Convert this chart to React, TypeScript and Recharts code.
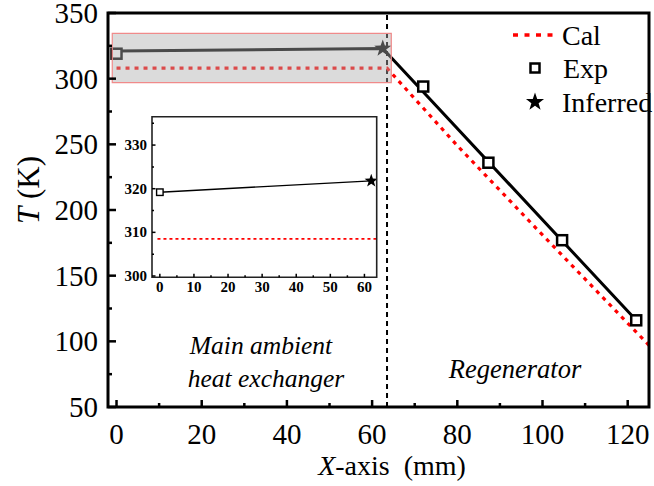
import React from 'react';
import {
  ComposedChart,
  Line,
  Scatter,
  XAxis,
  YAxis,
  ReferenceArea,
  ReferenceLine,
} from 'recharts';

// main plot data
const calX = [0, 63.5, 80, 100, 125];
const calT = [308, 308, 249, 181, 97];
const fitX = [0, 62.5, 122];
const fitT = [321, 323, 116];
const expX = [0, 72, 87.3, 104.6, 122];
const expT = [319, 294, 236, 177, 116];
const inferredX = [62.5];
const inferredT = [323];

// inset data
const insetExpX = [0];
const insetExpT = [319.2];
const insetInfX = [62];
const insetInfT = [321.8];
const insetCalX = [-0.7, 63.6];
const insetCalT = [308.5, 308.5];

const xTicks = [0, 10, 20, 30, 40, 50, 60, 70, 80, 90, 100, 110, 120];
const yTicks = [50, 75, 100, 125, 150, 175, 200, 225, 250, 275, 300, 325, 350];
const insetXTicks = [0, 5, 10, 15, 20, 25, 30, 35, 40, 45, 50, 55, 60];
const insetYTicks = [300, 305, 310, 315, 320, 325, 330, 335];

const boundaryX = 63.5;

const zip = (xs: number[], ys: number[]) => xs.map((x, i) => ({ x, T: ys[i] }));

const FONT = 'Liberation Serif';
const RED = '#ff0000';

// text style – inline so nothing else can override it
const ts = (size: number, extra: any = {}) => ({ fontFamily: FONT, fontSize: size, ...extra });

// plot box of the main chart, in page pixels
const PL = 108;
const PT = 13;
const PR = 649;
const PB = 407;

const starPoints = (cx: number, cy: number, ro: number, ri: number) => {
  const pts: string[] = [];
  for (let i = 0; i < 10; i++) {
    const r = i % 2 === 0 ? ro : ri;
    const a = -Math.PI / 2 + (i * Math.PI) / 5;
    pts.push(`${cx + r * Math.cos(a)},${cy + r * Math.sin(a)}`);
  }
  return pts.join(' ');
};

const Square = (size: number, sw: number) => (props: any) => {
  const { cx, cy } = props;
  if (cx == null || cy == null) return null;
  return (
    <rect x={cx - size / 2} y={cy - size / 2} width={size} height={size}
      fill="#fff" stroke="#000" strokeWidth={sw} />
  );
};

const Star = (ro: number, ri: number) => (props: any) => {
  const { cx, cy } = props;
  if (cx == null || cy == null) return null;
  return <polygon points={starPoints(cx, cy, ro, ri)} fill="#000" />;
};

const MainXTick = (props: any) => {
  const { x, payload } = props;
  const major = payload.value % 20 === 0;
  return (
    <g>
      <line x1={x} x2={x} y1={PB} y2={PB - (major ? 7 : 4)} stroke="#000" strokeWidth={2.5} />
      {major && (
        <text x={x} y={434} textAnchor="middle" dominantBaseline="central"
          fontFamily={FONT} style={ts(29)} fill="#000">{payload.value}</text>
      )}
    </g>
  );
};

const MainYTick = (props: any) => {
  const { y, payload } = props;
  const major = payload.value % 50 === 0;
  return (
    <g>
      <line x1={PL} x2={PL + (major ? 8 : 4)} y1={y} y2={y} stroke="#000" strokeWidth={2.5} />
      {major && (
        <text x={98} y={y} textAnchor="end" dominantBaseline="central"
          fontFamily={FONT} style={ts(29)} fill="#000">{payload.value}</text>
      )}
    </g>
  );
};

// inset geometry inside its own little chart
const IL = 40;
const IB = 167.3;

const InsetXTick = (props: any) => {
  const { x, payload } = props;
  const major = payload.value % 10 === 0;
  return (
    <g>
      <line x1={x} x2={x} y1={IB} y2={IB - (major ? 3.5 : 2)} stroke="#000" strokeWidth={1.5} />
      {major && (
        <text x={x} y={IB + 10} textAnchor="middle" dominantBaseline="central"
          fontFamily={FONT} style={ts(15, { fontWeight: 'bold' })} fill="#000">{payload.value}</text>
      )}
    </g>
  );
};

const InsetYTick = (props: any) => {
  const { y, payload } = props;
  const major = payload.value % 10 === 0;
  return (
    <g>
      <line x1={IL} x2={IL + (major ? 3.5 : 2)} y1={y} y2={y} stroke="#000" strokeWidth={1.5} />
      {major && (
        <text x={IL - 5} y={y} textAnchor="end" dominantBaseline="central"
          fontFamily={FONT} style={ts(15, { fontWeight: 'bold' })} fill="#000">{payload.value}</text>
      )}
    </g>
  );
};

function Inset() {
  return (
    <div style={{ position: 'absolute', left: 112, top: 110, width: 270, height: 195 }}>
      <ComposedChart width={270} height={195}
        margin={{ top: 6.7, right: 5.3, bottom: 0.7, left: 0 }}>
        <XAxis type="number" dataKey="x" domain={[-2.3, 63.6]} ticks={insetXTicks} interval={0}
          allowDataOverflow axisLine={false} tickLine={false} tick={<InsetXTick />} height={27} />
        <YAxis type="number" dataKey="T" domain={[299.7, 336.5]} ticks={insetYTicks} interval={0}
          allowDataOverflow axisLine={false} tickLine={false} tick={<InsetYTick />} width={40} />
        <ReferenceArea x1={-2.3} x2={63.6} y1={299.7} y2={336.5} fill="#fff" fillOpacity={1}
          stroke="none" zIndex={-10} />
        <Line data={zip(insetCalX, insetCalT)} dataKey="T" stroke={RED} strokeWidth={1.8}
          strokeDasharray="3 3" dot={false} isAnimationActive={false} />
        <Line data={[...zip(insetExpX, insetExpT), ...zip(insetInfX, insetInfT)]} dataKey="T"
          stroke="#000" strokeWidth={1.4} dot={false} isAnimationActive={false} />
        <Scatter data={zip(insetExpX, insetExpT)} dataKey="T" shape={Square(6.5, 1.4)}
          isAnimationActive={false} />
        <Scatter data={zip(insetInfX, insetInfT)} dataKey="T" shape={Star(7, 2.8)}
          isAnimationActive={false} />
        <ReferenceArea x1={-2.3} x2={63.6} y1={299.7} y2={336.5} fill="none"
          stroke="#222" strokeWidth={1.6} ifOverflow="visible" zIndex={1000} />
      </ComposedChart>
    </div>
  );
}

export default function App() {
  return (
    <div style={{ position: 'absolute', left: 0, top: 0, width: 654, height: 486, background: '#fff', fontFamily: FONT }}>
      <ComposedChart width={654} height={486}
        margin={{ top: PT, right: 654 - PR, bottom: 486 - PB - 50, left: PL - 60 }}>
        <XAxis type="number" dataKey="x" domain={[-2, 125]} ticks={xTicks} interval={0} allowDataOverflow
          axisLine={false} tickLine={false} tick={<MainXTick />} height={50} />
        <YAxis type="number" dataKey="T" domain={[50, 350]} ticks={yTicks} interval={0} allowDataOverflow
          axisLine={false} tickLine={false} tick={<MainYTick />} width={60} />
        <ReferenceLine x={boundaryX} stroke="#000" strokeWidth={2} strokeDasharray="5 4" />
        <Line data={zip(calX, calT)} dataKey="T" stroke={RED} strokeWidth={3.2}
          strokeDasharray="4 5" dot={false} isAnimationActive={false} />
        <Line data={zip(fitX, fitT)} dataKey="T" stroke="#000" strokeWidth={3}
          dot={false} isAnimationActive={false} />
        <Scatter data={zip(expX, expT)} dataKey="T" shape={Square(10, 2.5)} isAnimationActive={false} />
        <Scatter data={zip(inferredX, inferredT)} dataKey="T" shape={Star(9, 3.6)} isAnimationActive={false} />
        <ReferenceArea x1={-1} x2={64.5} y1={297} y2={334.5} fill="#acacac" fillOpacity={0.43}
          stroke="#f08a8a" strokeWidth={1.2} zIndex={1000} />
        <ReferenceArea x1={-2} x2={125} y1={50} y2={350} fill="none" stroke="#000"
          strokeWidth={3} ifOverflow="visible" zIndex={1001} />
      </ComposedChart>
      <Inset />
      <svg width={654} height={486} style={{ position: 'absolute', left: 0, top: 0, pointerEvents: 'none' }}>
        <g fill="#000">
          <line x1={513} x2={558} y1={35} y2={35} stroke={RED} strokeWidth={3.3} strokeDasharray="5 6.5" />
          <text x={562} y={35} dominantBaseline="central" style={ts(28)}>Cal</text>
          <rect x={530.5} y={63.5} width={9} height={9} fill="#fff" stroke="#000" strokeWidth={2.5} />
          <text x={563} y={68} dominantBaseline="central" style={ts(28)}>Exp</text>
          <polygon points={starPoints(535, 102, 9.5, 3.8)} fill="#000" />
          <text x={562} y={102} dominantBaseline="central" style={ts(28)}>Inferred</text>
          <text x={261} y={354} textAnchor="middle" style={ts(25.5, { fontStyle: 'italic' })}>Main ambient</text>
          <text x={266} y={387} textAnchor="middle" style={ts(25.5, { fontStyle: 'italic' })}>heat exchanger</text>
          <text x={515} y={378} textAnchor="middle" style={ts(26.5, { fontStyle: 'italic' })}>Regenerator</text>
          <text x={392} y={475} textAnchor="middle" style={ts(28, { whiteSpace: 'pre' })}>
            <tspan style={{ fontStyle: 'italic' }}>X</tspan>-axis  (mm)
          </text>
          <text x={0} y={0} textAnchor="middle" dominantBaseline="central" style={ts(31)}
            transform="translate(28,190) rotate(-90)">
            <tspan style={{ fontStyle: 'italic' }}>T</tspan> (K)
          </text>
        </g>
      </svg>
    </div>
  );
}
